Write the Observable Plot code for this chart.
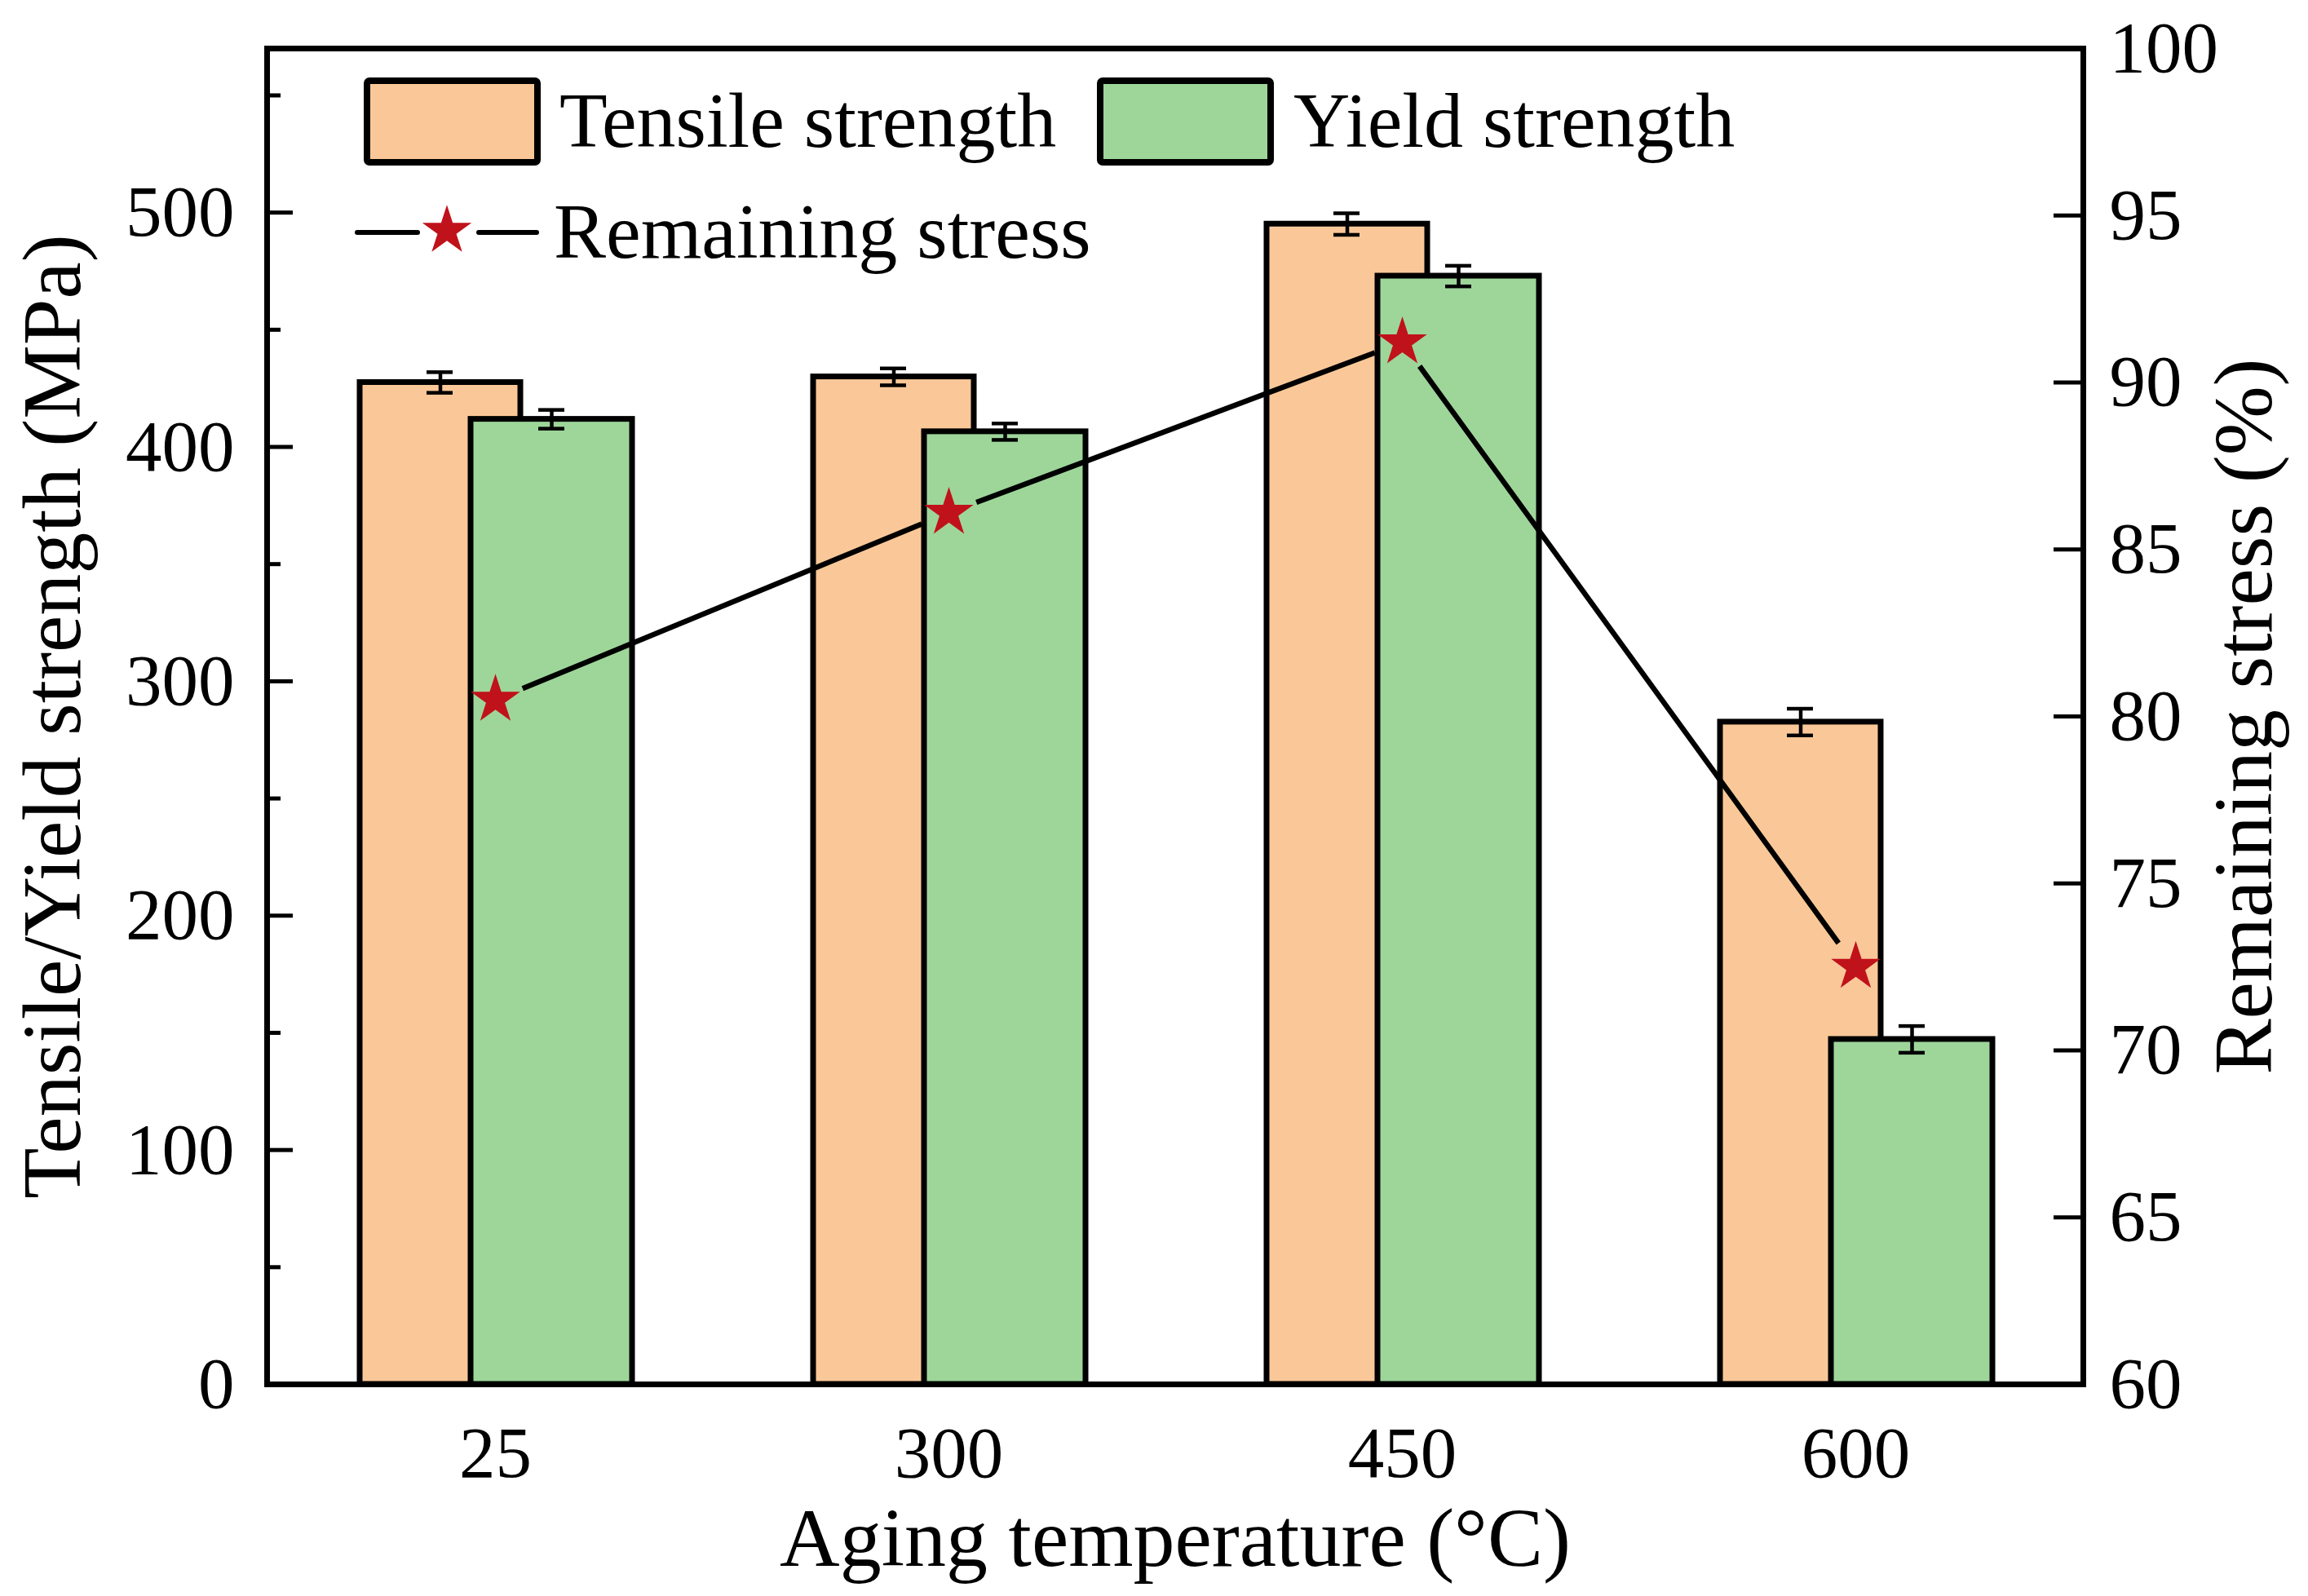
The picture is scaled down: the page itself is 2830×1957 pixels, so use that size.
<!DOCTYPE html>
<html>
<head>
<meta charset="utf-8">
<script src="https://cdn.jsdelivr.net/npm/d3@7"></script>
<script src="https://cdn.jsdelivr.net/npm/@observablehq/plot@0.6"></script>
<style>
  html, body { margin: 0; padding: 0; background: white; }
  #wrap { position: relative; width: 2830px; height: 1957px; }
  #wrap svg { display: block; }
  #legend { position: absolute; left: 0; top: 0; pointer-events: none; }
</style>
</head>
<body>
<div id="wrap"></div>
<script>
// ---- data ----
const temps = ["25", "300", "450", "600"];
const tensile = [427.5, 429.9, 495.1, 282.6];
const tensileErr = [4.4, 3.6, 4.6, 5.7];
const yieldStrength = [411.8, 406.5, 472.9, 147.2];
const yieldErr = [4.0, 3.5, 4.4, 5.7];
const remaining = [80.5, 86.1, 91.2, 72.5];

const leftTicks = [0, 100, 200, 300, 400, 500];
const leftMinor = [50, 150, 250, 350, 450, 550];
const rightTicks = [60, 65, 70, 75, 80, 85, 90, 95, 100];
const rightInner = [65, 70, 75, 80, 85, 90, 95];

const leftDomain = [0, 570];
const rightDomain = [60, 100];

const xTitle = "Aging temperature (°C)";
const yTitle = "Tensile/Yield strength (MPa)";
const y2Title = "Remaining stress (%)";
const legendLabels = ["Tensile strength", "Yield strength", "Remaining stress"];

// ---- styles ----
const W = 2830, H = 1957;
const mL = 327, mR = 276, mT = 59, mB = 260;
const plotW = W - mL - mR;
const orange = "#FAC898";
const green = "#9ED69A";
const red = "#C0121B";
const font = "Liberation Serif, Times New Roman, serif";
const tickFont = 89, titleFont = 102, legendFont = 96;
const starR = 19;

// map right-axis values onto the left scale domain
const rs = d3.scaleLinear().domain(rightDomain).range(leftDomain);

const rows = temps.map((t, i) => ({
  temp: t,
  tensile: tensile[i], tErr: tensileErr[i],
  yld: yieldStrength[i], yErr: yieldErr[i],
  rem: remaining[i]
}));
const segs = rows.slice(1).map((d, i) => ({a: rows[i], b: d}));

const errW = 4.5;
const chart = Plot.plot({
  width: W, height: H,
  marginLeft: mL, marginRight: mR, marginTop: mT, marginBottom: mB,
  style: {fontFamily: font, fontSize: tickFont + "px", background: "white", color: "black"},
  x: {type: "band", domain: temps, padding: 0},
  y: {domain: leftDomain},
  marks: [
    Plot.barY(rows, {x: "temp", y: "tensile", fill: orange, stroke: "black", strokeWidth: 7, insetLeft: 112, insetRight: 247}),
    Plot.barY(rows, {x: "temp", y: "yld", fill: green, stroke: "black", strokeWidth: 7, insetLeft: 248, insetRight: 110}),
    // error bars – tensile
    Plot.ruleX(rows, {x: "temp", y1: d => d.tensile - d.tErr, y2: d => d.tensile + d.tErr, dx: -67.5, stroke: "black", strokeWidth: errW}),
    Plot.tickY(rows, {x: "temp", y: d => d.tensile + d.tErr, insetLeft: 194, insetRight: 330, stroke: "black", strokeWidth: errW}),
    Plot.tickY(rows, {x: "temp", y: d => d.tensile - d.tErr, insetLeft: 194, insetRight: 330, stroke: "black", strokeWidth: errW}),
    // error bars – yield
    Plot.ruleX(rows, {x: "temp", y1: d => d.yld - d.yErr, y2: d => d.yld + d.yErr, dx: 69, stroke: "black", strokeWidth: errW}),
    Plot.tickY(rows, {x: "temp", y: d => d.yld + d.yErr, insetLeft: 331, insetRight: 193, stroke: "black", strokeWidth: errW}),
    Plot.tickY(rows, {x: "temp", y: d => d.yld - d.yErr, insetLeft: 331, insetRight: 193, stroke: "black", strokeWidth: errW}),
    // remaining stress line with gaps near the markers
    Plot.arrow(segs, {
      x1: d => d.a.temp, y1: d => rs(d.a.rem),
      x2: d => d.b.temp, y2: d => rs(d.b.rem),
      headLength: 0, inset: 36, stroke: "black", strokeWidth: 6.5, strokeLinecap: "butt"
    }),
    Plot.dot(rows, {x: "temp", y: d => rs(d.rem), symbol: "star", r: starR, fill: red, stroke: "none"}),
    // frame
    Plot.frame({stroke: "black", strokeWidth: 7}),
    // inward ticks, left
    Plot.tickY(leftTicks, {y: d => d, insetRight: plotW - 32, stroke: "black", strokeWidth: 5}),
    Plot.tickY(leftMinor, {y: d => d, insetRight: plotW - 17, stroke: "black", strokeWidth: 5}),
    // inward ticks, right
    Plot.tickY(rightInner, {y: d => rs(d), insetLeft: plotW - 36, stroke: "black", strokeWidth: 5}),
    // tick labels
    Plot.axisY({ticks: leftTicks, tickSize: 0, tickPadding: 40, fontSize: tickFont, label: null}),
    Plot.axisY(rightTicks.map(v => rs(v)), {anchor: "right", tickSize: 0, tickPadding: 32, fontSize: tickFont, label: null,
      tickFormat: d => String(Math.round(rs.invert(d)))}),
    Plot.axisX({tickSize: 0, tickPadding: 50, fontSize: tickFont, label: null}),
    // axis titles
    Plot.text([xTitle], {text: d => d, frameAnchor: "bottom", textAnchor: "middle", lineAnchor: "middle", dy: 190, fontSize: titleFont, fill: "black"}),
    Plot.text([yTitle], {text: d => d, frameAnchor: "left", textAnchor: "middle", lineAnchor: "middle", dx: -262, rotate: -90, fontSize: titleFont, fill: "black"}),
    Plot.text([y2Title], {text: d => d, frameAnchor: "right", textAnchor: "middle", lineAnchor: "middle", dx: 198, rotate: -90, fontSize: titleFont, fill: "black"})
  ]
});

const wrap = document.getElementById("wrap");
wrap.appendChild(chart);

// ---- legend (inside the plot area, overlay) ----
const lg = d3.select(wrap).append("svg")
  .attr("id", "legend").attr("width", W).attr("height", H)
  .style("font-family", font).style("font-size", legendFont + "px");

const sw = [
  {fill: orange, x: 450, text: legendLabels[0], tx: 686},
  {fill: green, x: 1349, text: legendLabels[1], tx: 1586}
];
sw.forEach(s => {
  lg.append("rect").attr("x", s.x).attr("y", 99).attr("width", 209).attr("height", 100)
    .attr("fill", s.fill).attr("stroke", "black").attr("stroke-width", 8).attr("rx", 3);
  lg.append("text").attr("x", s.tx).attr("y", 180).attr("fill", "black").text(s.text);
});
lg.append("line").attr("x1", 438).attr("x2", 512).attr("y1", 285).attr("y2", 285)
  .attr("stroke", "black").attr("stroke-width", 6).attr("stroke-linecap", "round");
lg.append("line").attr("x1", 587).attr("x2", 658).attr("y1", 285).attr("y2", 285)
  .attr("stroke", "black").attr("stroke-width", 6).attr("stroke-linecap", "round");
lg.append("path").attr("transform", "translate(548,283)")
  .attr("d", d3.symbol(d3.symbolStar, Math.PI * starR * starR)()).attr("fill", red);
lg.append("text").attr("x", 679).attr("y", 316).attr("fill", "black").text(legendLabels[2]);
</script>
</body>
</html>
